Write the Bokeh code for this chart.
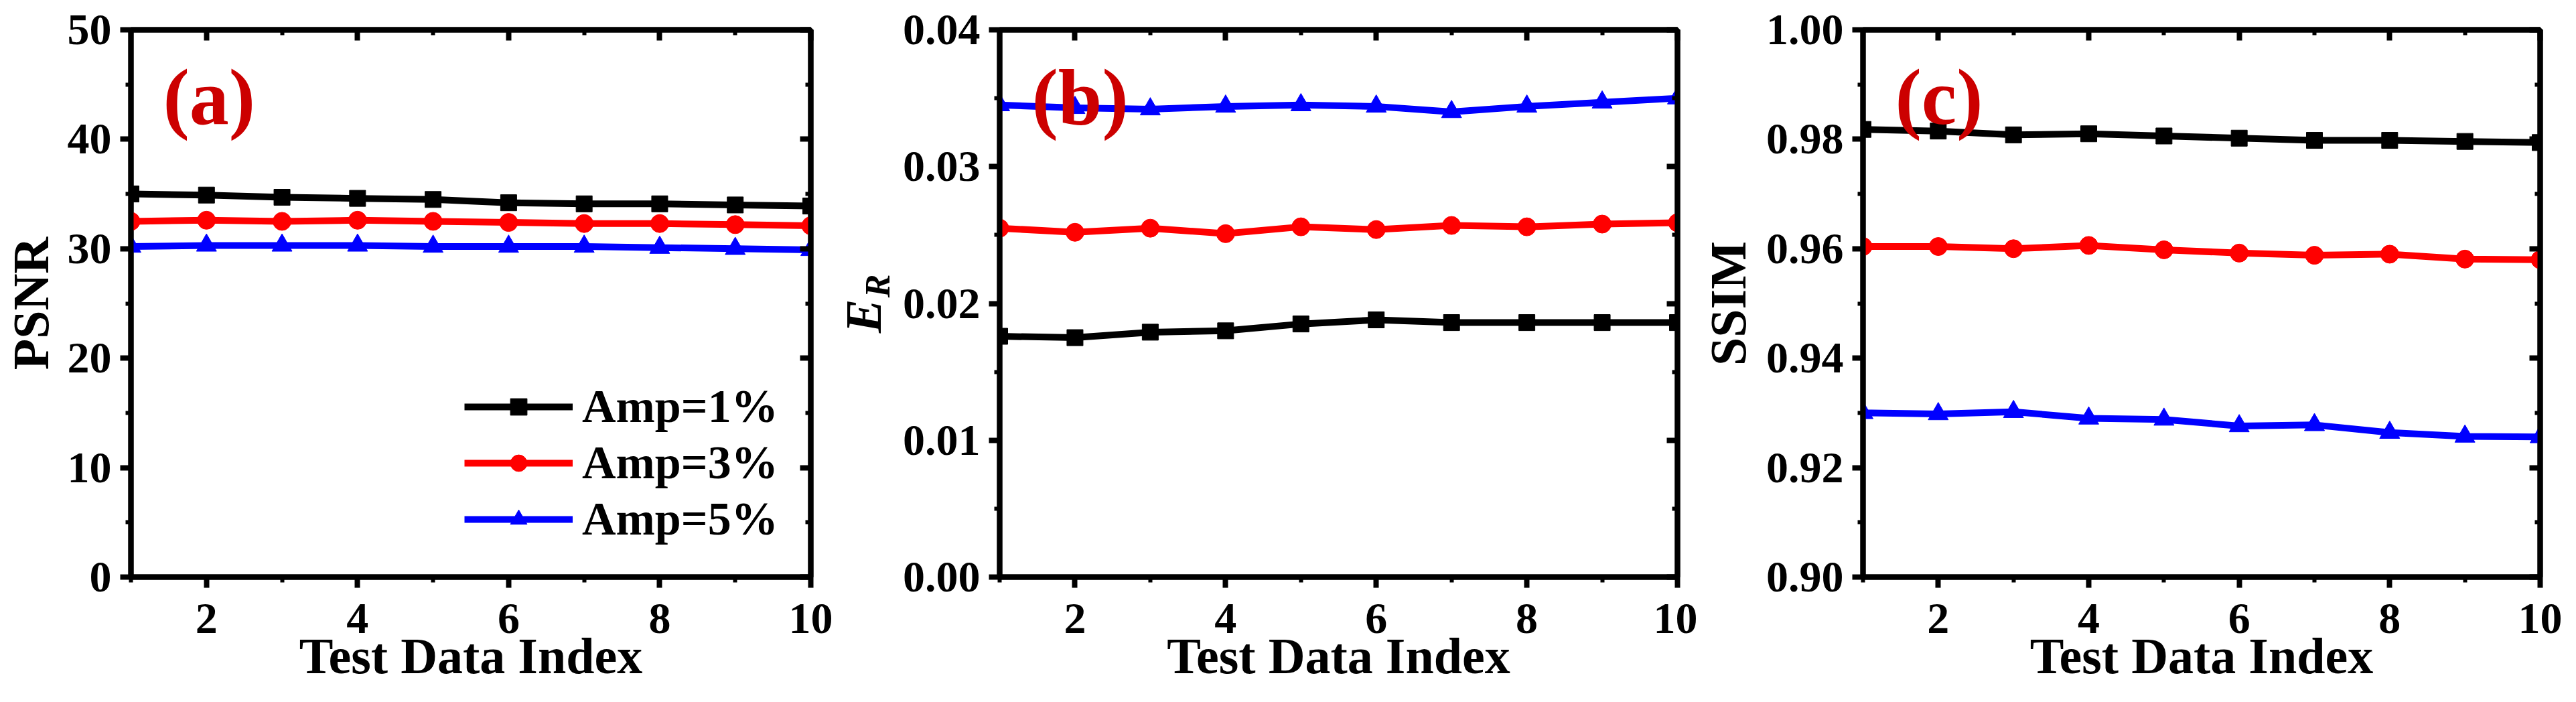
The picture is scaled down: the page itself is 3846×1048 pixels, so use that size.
import math
from bokeh.plotting import figure
from bokeh.models import (Range1d, LinearAxis, FixedTicker, PrintfTickFormatter,
                          Label, Legend, LegendItem)
from bokeh.layouts import row
from bokeh.embed import file_html
from bokeh.resources import INLINE

# ---------------- data ----------------
test_index = [1, 2, 3, 4, 5, 6, 7, 8, 9, 10]
series_labels = ["Amp=1%", "Amp=3%", "Amp=5%"]
series_colors = ["#000000", "#ff0000", "#0000ff"]
series_markers = ["square", "circle", "triangle"]
series_sizes = [24, 27, 30]

psnr_amp1 = [35.0, 34.9, 34.7, 34.6, 34.5, 34.2, 34.1, 34.1, 34.0, 33.9]
psnr_amp3 = [32.5, 32.6, 32.5, 32.6, 32.5, 32.4, 32.3, 32.3, 32.2, 32.1]
psnr_amp5 = [30.2, 30.3, 30.3, 30.3, 30.2, 30.2, 30.2, 30.1, 30.0, 29.9]

er_amp1 = [0.0176, 0.0175, 0.0179, 0.0180, 0.0185, 0.0188, 0.0186, 0.0186, 0.0186, 0.0186]
er_amp3 = [0.0255, 0.0252, 0.0255, 0.0251, 0.0256, 0.0254, 0.0257, 0.0256, 0.0258, 0.0259]
er_amp5 = [0.0345, 0.0343, 0.0342, 0.0344, 0.0345, 0.0344, 0.0340, 0.0344, 0.0347, 0.0350]

ssim_amp1 = [0.9818, 0.9815, 0.9808, 0.9810, 0.9806, 0.9802, 0.9798, 0.9798, 0.9796, 0.9794]
ssim_amp3 = [0.9604, 0.9604, 0.9600, 0.9606, 0.9598, 0.9592, 0.9588, 0.9590, 0.9581, 0.9580]
ssim_amp5 = [0.9300, 0.9298, 0.9302, 0.9290, 0.9288, 0.9276, 0.9278, 0.9264, 0.9257, 0.9256]

x_ticks = [2, 4, 6, 8, 10]
x_minor_ticks = [1, 3, 5, 7, 9]
psnr_ticks = [0, 10, 20, 30, 40, 50]
psnr_minor = [5, 15, 25, 35, 45]
er_ticks = [0.0, 0.01, 0.02, 0.03, 0.04]
er_minor = [0.005, 0.015, 0.025, 0.035]
ssim_ticks = [0.90, 0.92, 0.94, 0.96, 0.98, 1.00]
ssim_minor = [0.91, 0.93, 0.95, 0.97, 0.99]

x_title = "Test Data Index"
psnr_title = "PSNR"
er_title_main = "E"
er_title_sub = "R"
ssim_title = "SSIM"
panel_letters = ["(a)", "(b)", "(c)"]

# ---------------- style ----------------
FONT = "Liberation Serif"
H = 1032
TOP = 44
FRAME_H = 817
BOTTOM = H - TOP - FRAME_H
LETTER_RED = "#cc0000"
NBSP = "\u00a0"


def style_axis(ax, outward, ticks, minor, show_labels, fmt=None):
    ax.ticker = FixedTicker(ticks=ticks, minor_ticks=minor)
    ax.axis_line_width = 8
    ax.axis_line_color = "black"
    ax.major_tick_line_width = 8
    ax.minor_tick_line_width = 6
    ax.major_tick_line_color = "black"
    ax.minor_tick_line_color = "black"
    if outward:
        ax.major_tick_out, ax.major_tick_in = 16, 0
        ax.minor_tick_out, ax.minor_tick_in = 8, 0
    else:
        ax.major_tick_out, ax.major_tick_in = 0, 16
        ax.minor_tick_out, ax.minor_tick_in = 0, 8
    ax.major_label_text_font = FONT
    ax.major_label_text_font_style = "bold"
    ax.major_label_text_color = "black"
    ax.axis_label_text_font = FONT
    ax.axis_label_text_font_style = "bold"
    ax.axis_label_text_color = "black"
    ax.axis_label_text_font_size = "76px"
    if show_labels:
        ax.major_label_text_font_size = "66px"
    else:
        ax.major_label_text_font_size = "10px"
        ax.major_label_standoff = 0
        ax.major_label_overrides = {t: "" for t in ticks}
    if fmt is not None:
        ax.formatter = PrintfTickFormatter(format=fmt)


def make_panel(width, bl, br, yr, yticks, yminor, yfmt, series, letter, legend=False):
    p = figure(width=width, height=H, x_range=Range1d(1, 10), y_range=Range1d(*yr),
               output_backend="svg", toolbar_location=None, title=None,
               min_border_left=bl, min_border_right=br,
               min_border_top=TOP, min_border_bottom=BOTTOM)
    p.grid.grid_line_color = None
    p.outline_line_color = "black"
    p.outline_line_width = 8
    p.background_fill_color = "white"
    p.border_fill_color = "white"

    xa = p.xaxis[0]
    style_axis(xa, True, x_ticks, x_minor_ticks, True)
    xa.major_label_standoff = 24
    xa.axis_label = x_title
    xa.axis_label_standoff = -11
    ya = p.yaxis[0]
    style_axis(ya, True, yticks, yminor, True, yfmt)
    ya.major_label_standoff = 13

    top_ax = LinearAxis()
    style_axis(top_ax, False, x_ticks, x_minor_ticks, False)
    p.add_layout(top_ax, "above")
    right_ax = LinearAxis()
    style_axis(right_ax, False, yticks, yminor, False)
    p.add_layout(right_ax, "right")

    items = []
    for vals, lab, col, mk, sz in zip(series, series_labels, series_colors,
                                      series_markers, series_sizes):
        lr = p.line(test_index, vals, line_color=col, line_width=10, line_join="round")
        sr = p.scatter(test_index, vals, marker=mk, size=sz, fill_color=col, line_color=col,
                       line_width=1)
        items.append(LegendItem(label=lab, renderers=[lr, sr]))

    if legend:
        lg = Legend(items=items, location=(498, 46), glyph_width=162, glyph_height=62,
                    label_height=80, spacing=4, padding=0, margin=0, label_standoff=14,
                    label_text_font=FONT, label_text_font_style="bold",
                    label_text_font_size="70px", label_text_color="black",
                    border_line_color=None, background_fill_alpha=0)
        p.add_layout(lg)

    p.add_layout(Label(x=48, y=716, x_units="screen", y_units="screen", text=letter,
                       text_font=FONT, text_font_style="bold", text_font_size="118px",
                       text_color=LETTER_RED, text_align="left", text_baseline="alphabetic"))
    return p


# ---- panel (a): 8 -> 1251 ----
pa = make_panel(1243, 190, 33, (0, 50), psnr_ticks, psnr_minor, None,
                [psnr_amp1, psnr_amp3, psnr_amp5], panel_letters[0], legend=True)
pa.yaxis[0].axis_label = psnr_title
pa.yaxis[0].axis_label_standoff = 10

# ---- panel (b): 1251 -> 2542 ----
pb = make_panel(1291, 241, 30, (0, 0.04), er_ticks, er_minor, "%.2f",
                [er_amp1, er_amp3, er_amp5], panel_letters[1])
yb = pb.yaxis[0]
yb.axis_label = NBSP * 4 + er_title_sub
yb.axis_label_text_font_size = "52px"
yb.axis_label_text_font_style = "bold italic"
yb.axis_label_standoff = 6
outer = LinearAxis(ticker=FixedTicker(ticks=[], minor_ticks=[]))
outer.axis_line_color = None
outer.major_tick_out = 0
outer.major_tick_in = 0
outer.minor_tick_out = 0
outer.minor_tick_in = 0
outer.major_label_standoff = 0
outer.major_label_text_font_size = "10px"
outer.axis_label = er_title_main + NBSP * 2
outer.axis_label_text_font = FONT
outer.axis_label_text_font_style = "bold italic"
outer.axis_label_text_font_size = "76px"
outer.axis_label_text_color = "black"
outer.axis_label_standoff = -52
pb.add_layout(outer, "left")

# ---- panel (c): 2542 -> 3838 ----
pc = make_panel(1296, 241, 38, (0.90, 1.00), ssim_ticks, ssim_minor, "%.2f",
                [ssim_amp1, ssim_amp3, ssim_amp5], panel_letters[2])
pc.yaxis[0].axis_label = ssim_title
pc.yaxis[0].axis_label_standoff = 12

layout = row(pa, pb, pc)
open("out.html", "w").write(file_html(layout, INLINE))
